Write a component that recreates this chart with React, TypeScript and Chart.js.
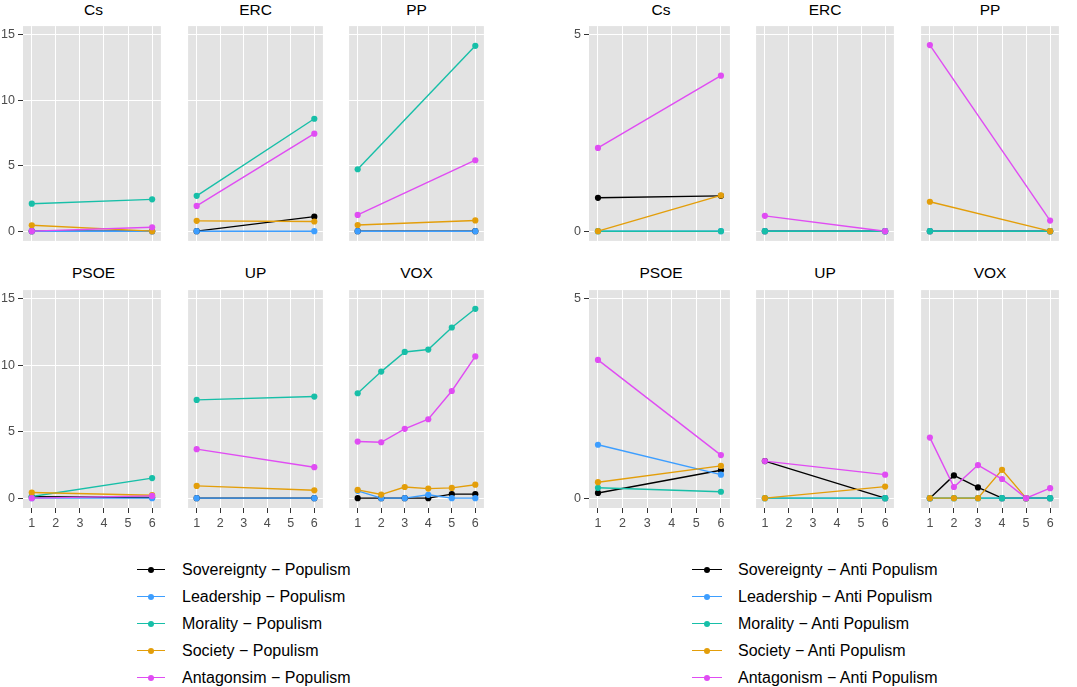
import React, { useEffect, useRef } from "react";
import { Chart, registerables } from "chart.js";

Chart.register(...registerables);

const FONT = "'Liberation Sans', Arial, Helvetica, sans-serif";

// ---------------- data ----------------
const PARTIES = ["Cs", "ERC", "PP", "PSOE", "UP", "VOX"];
const WAVES_SHORT = [1, 6];
const WAVES_VOX = [1, 2, 3, 4, 5, 6];
const X_TICKS = [1, 2, 3, 4, 5, 6];
const Y_TICKS_POPULISM = [0, 5, 10, 15];
const Y_TICKS_ANTI = [0, 5];

const POP_LABELS = [
  "Sovereignty − Populism",
  "Leadership − Populism",
  "Morality − Populism",
  "Society − Populism",
  "Antagonsim − Populism",
];
const ANTI_LABELS = [
  "Sovereignty − Anti Populism",
  "Leadership − Anti Populism",
  "Morality − Anti Populism",
  "Society − Anti Populism",
  "Antagonism − Anti Populism",
];
const COLORS = ["#000000", "#3D9EFF", "#17BFA8", "#E39E0A", "#E04CF3"];

type Series = Record<string, (number | null)[]>;

// Populism
const POP_SOVEREIGNTY: Series = { Cs: [0, 0], ERC: [0, 1.11], PP: [0, 0], PSOE: [0.1, 0.05], UP: [0, 0], VOX: [0, 0, 0, 0, 0.3, 0.3] };
const POP_LEADERSHIP: Series = { Cs: [0, 0], ERC: [0, 0], PP: [0, 0], PSOE: [0, 0], UP: [0, 0], VOX: [0.55, 0, 0, 0.25, 0, 0] };
const POP_MORALITY: Series = { Cs: [2.1, 2.43], ERC: [2.7, 8.59], PP: [4.73, 14.16], PSOE: [0.12, 1.51], UP: [7.4, 7.65], VOX: [7.9, 9.53, 11.01, 11.19, 12.85, 14.26] };
const POP_SOCIETY: Series = { Cs: [0.45, 0], ERC: [0.79, 0.74], PP: [0.47, 0.82], PSOE: [0.42, 0.22], UP: [0.92, 0.59], VOX: [0.62, 0.27, 0.84, 0.72, 0.77, 1.01] };
const POP_ANTAGONISM: Series = { Cs: [0, 0.3], ERC: [1.93, 7.45], PP: [1.24, 5.42], PSOE: [0, 0.17], UP: [3.69, 2.33], VOX: [4.26, 4.21, 5.22, 5.94, 8.07, 10.67] };

// Anti populism
const ANTI_SOVEREIGNTY: Series = { Cs: [0.85, 0.9], ERC: [0, 0], PP: [0, 0], PSOE: [0.13, 0.7], UP: [0.93, 0], VOX: [0, 0.57, 0.27, 0, 0, 0] };
const ANTI_LEADERSHIP: Series = { Cs: [0, 0], ERC: [0, 0], PP: [0, 0], PSOE: [1.34, 0.59], UP: [0, 0], VOX: [0, 0, 0, 0, 0, 0] };
const ANTI_MORALITY: Series = { Cs: [0, 0], ERC: [0, 0], PP: [0, 0], PSOE: [0.26, 0.16], UP: [0, 0], VOX: [0, 0, 0, 0, 0, 0] };
const ANTI_SOCIETY: Series = { Cs: [0, 0.91], ERC: [null, null], PP: [0.75, 0], PSOE: [0.4, 0.81], UP: [0, 0.29], VOX: [0, 0, 0, 0.71, 0, null] };
const ANTI_ANTAGONISM: Series = { Cs: [2.12, 3.96], ERC: [0.39, 0], PP: [4.74, 0.27], PSOE: [3.47, 1.08], UP: [0.93, 0.59], VOX: [1.52, 0.28, 0.83, 0.48, 0, 0.25] };

const POP_SERIES = [POP_SOVEREIGNTY, POP_LEADERSHIP, POP_MORALITY, POP_SOCIETY, POP_ANTAGONISM];
const ANTI_SERIES = [ANTI_SOVEREIGNTY, ANTI_LEADERSHIP, ANTI_MORALITY, ANTI_SOCIETY, ANTI_ANTAGONISM];

// ---------------- layout / style ----------------
const PANEL_BG = "#E3E3E3";
const GRID = "#FFFFFF";
const TICK_COLOR = "#333333";
const LABEL_COLOR = "#4D4D4D";
const HALF_COLS = [
  [23, 185, 346],
  [589, 753, 918],
];
const HALF_PANEL_W = [141, 144];
const HALF_YAXIS_W = [23, 30];
const ROW_TOPS = [23, 287];
const PANEL_H = 221;
const XAXIS_H = 25;
const X_MIN = 0.635;
const X_MAX = 6.365;
const HALF_Y = [
  { min: -0.743, max: 15.668, ticks: Y_TICKS_POPULISM },
  { min: -0.2475, max: 5.223, ticks: Y_TICKS_ANTI },
];

const panelBg = {
  id: "panelBg",
  beforeDraw(chart: any) {
    const { ctx, chartArea: a } = chart;
    ctx.save();
    ctx.fillStyle = PANEL_BG;
    ctx.fillRect(a.left, a.top, a.right - a.left, a.bottom - a.top);
    ctx.restore();
  },
};

function zeroPad(s: any) {
  s.paddingLeft = 0;
  s.paddingRight = 0;
  s.paddingTop = 0;
  s.paddingBottom = 0;
}

function buildConfig(half: number, party: string, row: number, col: number): any {
  const seriesSet = half === 0 ? POP_SERIES : ANTI_SERIES;
  const waves = party === "VOX" ? WAVES_VOX : WAVES_SHORT;
  const datasets: any[] = [];
  seriesSet.forEach((values, i) => {
    const pts = waves.map((x, j) => ({ x, y: values[party][j] }));
    datasets.push({
      data: pts,
      borderColor: COLORS[i],
      backgroundColor: COLORS[i],
      borderWidth: 1.4,
      pointRadius: 0,
      pointHoverRadius: 0,
      tension: 0,
      spanGaps: false,
      order: 20 - i,
    });
    datasets.push({
      data: pts,
      showLine: false,
      borderColor: COLORS[i],
      backgroundColor: COLORS[i],
      pointRadius: 3.1,
      pointBorderWidth: 0,
      pointHoverRadius: 3.1,
      order: 10 - i,
    });
  });
  const showX = row === 1;
  const showY = col === 0;
  const yCfg = HALF_Y[half];
  return {
    type: "line",
    data: { datasets },
    plugins: [panelBg],
    options: {
      animation: false,
      responsive: false,
      maintainAspectRatio: false,
      events: [],
      layout: { padding: 0 },
      plugins: { legend: { display: false }, tooltip: { enabled: false }, title: { display: false } },
      scales: {
        x: {
          type: "linear",
          min: X_MIN,
          max: X_MAX,
          afterBuildTicks: (s: any) => {
            s.ticks = X_TICKS.map((v) => ({ value: v }));
          },
          afterFit: (s: any) => {
            s.height = showX ? XAXIS_H : 0;
            zeroPad(s);
          },
          border: { display: false },
          grid: { color: GRID, lineWidth: 1, drawTicks: showX, tickLength: 5, tickColor: TICK_COLOR, tickWidth: 1 },
          ticks: {
            display: showX,
            color: LABEL_COLOR,
            font: { family: FONT, size: 12.5 },
            padding: 3,
            autoSkip: false,
            maxRotation: 0,
            minRotation: 0,
            callback: (v: any) => String(v),
          },
        },
        y: {
          type: "linear",
          min: yCfg.min,
          max: yCfg.max,
          afterBuildTicks: (s: any) => {
            s.ticks = yCfg.ticks.map((v) => ({ value: v }));
          },
          afterFit: (s: any) => {
            s.width = showY ? HALF_YAXIS_W[half] : 0;
            zeroPad(s);
          },
          border: { display: false },
          grid: { color: GRID, lineWidth: 1, drawTicks: showY, tickLength: 5, tickColor: TICK_COLOR, tickWidth: 1 },
          ticks: {
            display: showY,
            color: LABEL_COLOR,
            font: { family: FONT, size: 12.5 },
            padding: 3,
            autoSkip: false,
            callback: (v: any) => String(v),
          },
        },
      },
    },
  };
}

function Facet({ half, party, row, col }: { half: number; party: string; row: number; col: number }) {
  const ref = useRef<HTMLCanvasElement>(null);
  const panelLeft = HALF_COLS[half][col];
  const panelW = HALF_PANEL_W[half];
  const yAxisW = col === 0 ? HALF_YAXIS_W[half] : 0;
  const left = panelLeft - yAxisW;
  const top = ROW_TOPS[row];
  const w = panelW + yAxisW;
  const h = PANEL_H + (row === 1 ? XAXIS_H : 0);

  useEffect(() => {
    const chart = new Chart(ref.current as HTMLCanvasElement, buildConfig(half, party, row, col));
    return () => chart.destroy();
  }, [half, party, row, col]);

  return (
    <>
      <div
        style={{
          position: "absolute",
          left: panelLeft,
          width: panelW,
          top: row === 0 ? 0.5 : 264,
          height: 18,
          lineHeight: "18px",
          textAlign: "center",
          fontSize: 15.5,
          fontWeight: 400,
          fontFamily: FONT,
          color: "#000",
        }}
      >
        {party}
      </div>
      <canvas
        ref={ref}
        width={w}
        height={h}
        style={{ position: "absolute", left, top, width: w, height: h }}
      />
    </>
  );
}

function Legend({ labels, lineLeft, lineWidth, dotX, textLeft }: { labels: string[]; lineLeft: number; lineWidth: number; dotX: number; textLeft: number }) {
  return (
    <>
      {labels.map((lab, i) => {
        const top = 556 + i * 27;
        return (
          <React.Fragment key={lab}>
            <div style={{ position: "absolute", left: lineLeft, top: top + 12.75, width: lineWidth, height: 1.5, background: COLORS[i] }} />
            <div style={{ position: "absolute", left: dotX - 3, top: top + 10.5, width: 6, height: 6, borderRadius: 3, background: COLORS[i] }} />
            <div
              style={{
                position: "absolute",
                left: textLeft,
                top,
                height: 27,
                lineHeight: "27px",
                fontSize: 16,
                fontFamily: FONT,
                color: "#000",
                whiteSpace: "nowrap",
              }}
            >
              {lab}
            </div>
          </React.Fragment>
        );
      })}
    </>
  );
}

export default function App() {
  return (
    <div style={{ position: "absolute", left: 0, top: 0, width: 1077, height: 687, background: "#fff", overflow: "hidden" }}>
      {[0, 1].map((half) =>
        PARTIES.map((party, k) => (
          <Facet key={`${half}-${party}`} half={half} party={party} row={Math.floor(k / 3)} col={k % 3} />
        ))
      )}
      <Legend labels={POP_LABELS} lineLeft={137} lineWidth={28} dotX={151} textLeft={182} />
      <Legend labels={ANTI_LABELS} lineLeft={692} lineWidth={30} dotX={707} textLeft={738} />
    </div>
  );
}
